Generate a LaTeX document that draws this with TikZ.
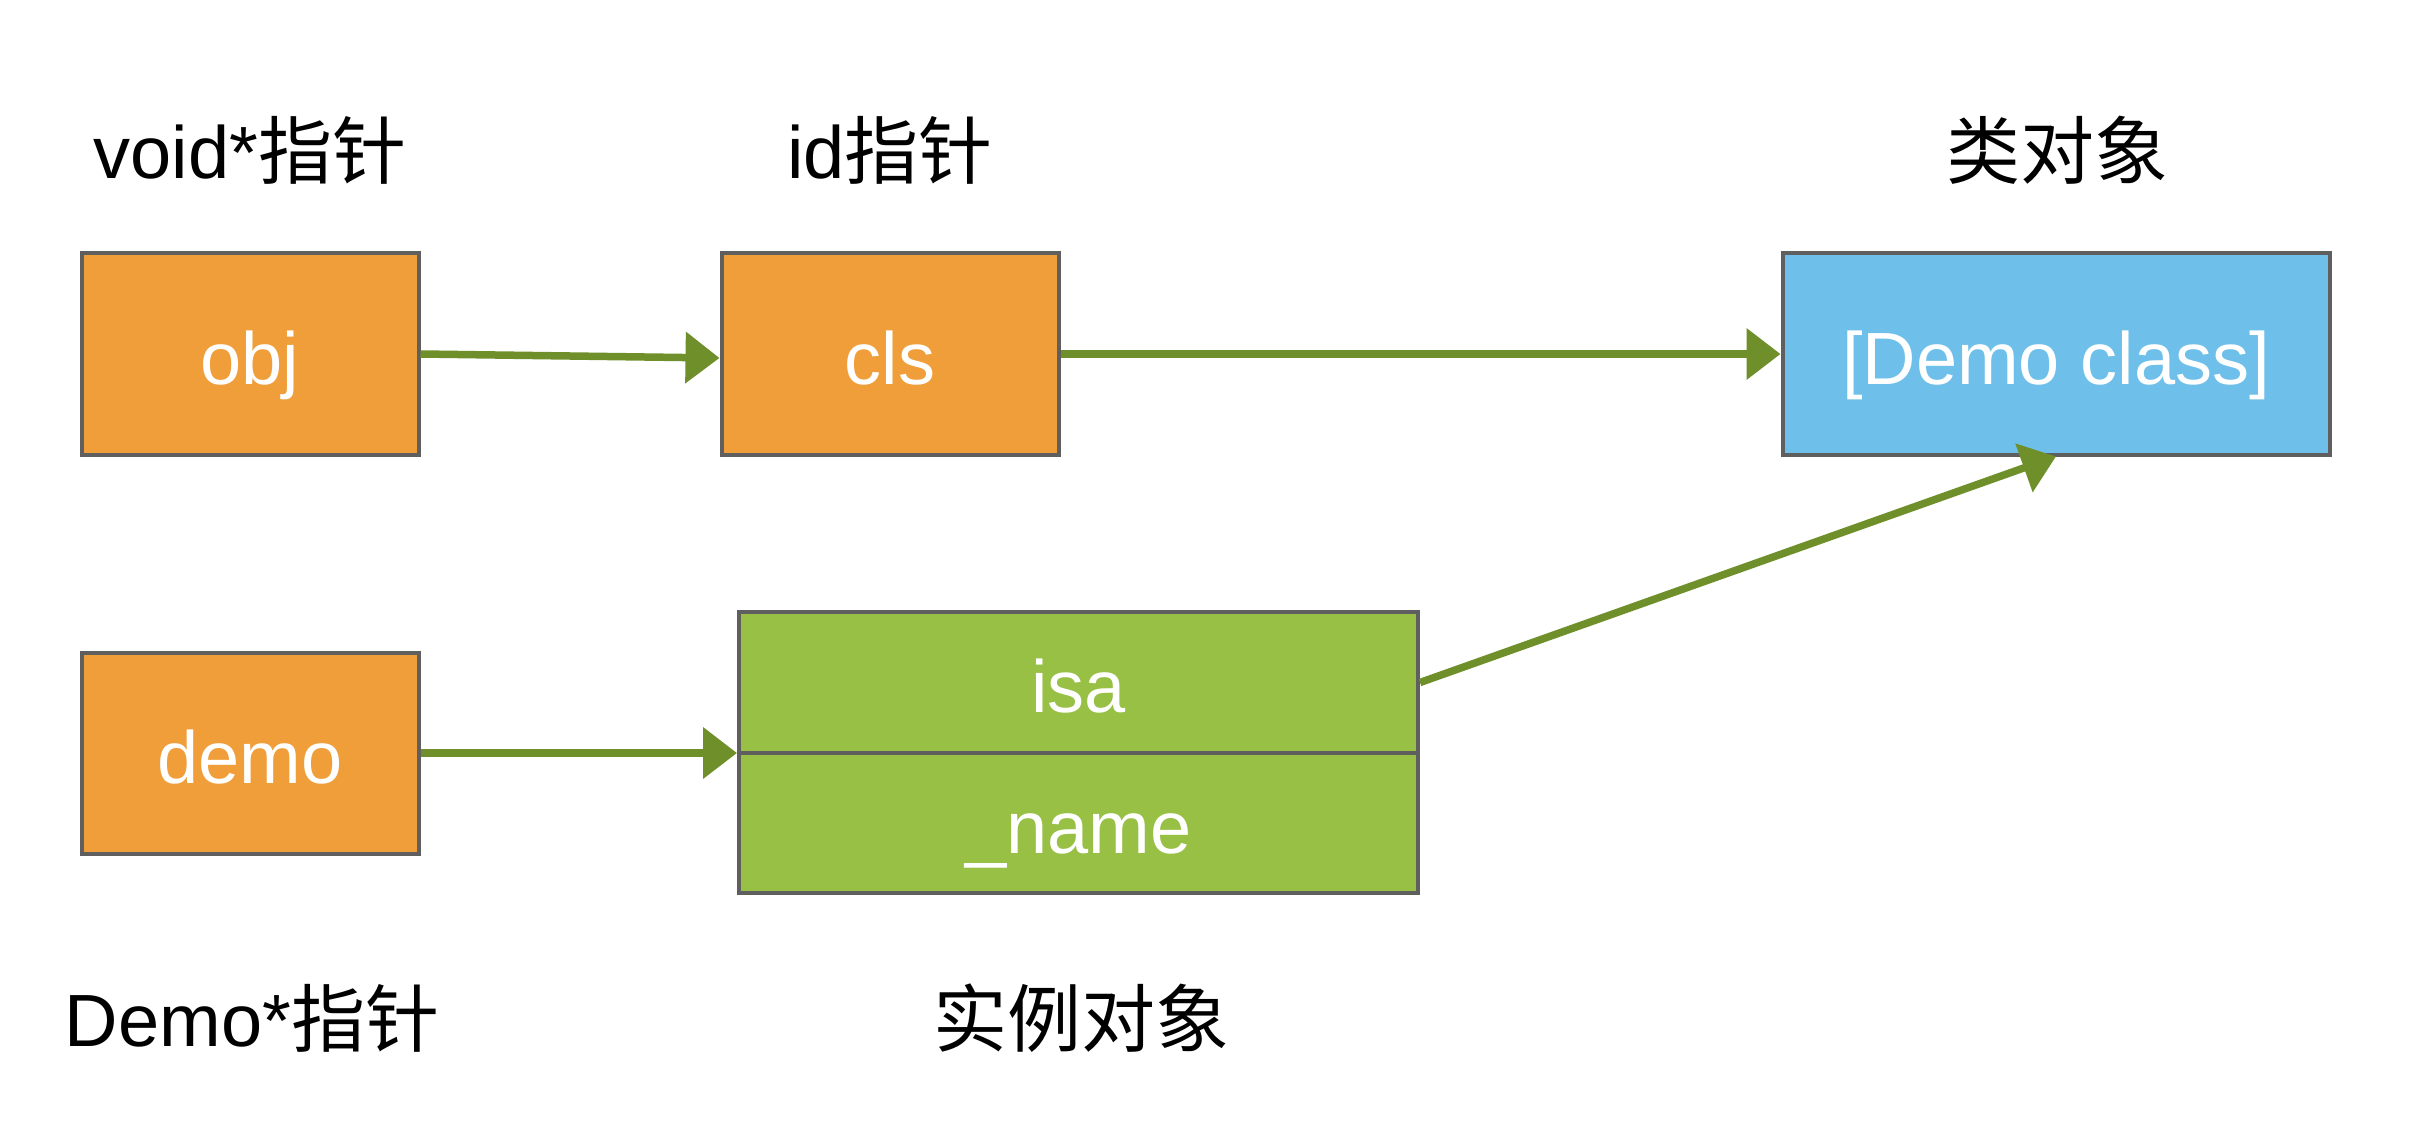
\documentclass[tikz,border=0pt]{standalone}
\usepackage{fontspec}
\setmainfont{Liberation Sans}
\newfontfamily\cjk{Noto Sans CJK SC}
\usetikzlibrary{arrows.meta}
\definecolor{orangebox}{RGB}{240,158,58}
\definecolor{bluebox}{RGB}{110,192,234}
\definecolor{greenbox}{RGB}{151,192,69}
\definecolor{bordergray}{RGB}{95,95,95}
\definecolor{arrowgreen}{RGB}{111,143,42}
\begin{document}
\begin{tikzpicture}[x=1pt,y=-1pt,
  bigfont/.style={font=\fontsize{74pt}{88pt}\selectfont},
  cell/.style={draw=bordergray, line width=4pt, text=white, bigfont, inner sep=0pt,
    text height=68pt, text depth=8pt},
  ptr/.style={cell, fill=orangebox, minimum width=337pt, minimum height=201pt},
  lbl/.style={text=black, bigfont, inner sep=0pt},
  conn/.style={draw=arrowgreen, line width=7.5pt, -{Triangle[length=34pt,width=50pt]}}
]
\useasboundingbox (0,0) rectangle (2418,1134);
% boxes
\node[ptr] (obj) at (250,354) {obj};
\node[ptr] (cls) at (890,354) {cls};
\node[cell, fill=bluebox, minimum width=547pt, minimum height=201pt] (klass) at (2056,354) {[Demo class]};
\node[ptr] (demo) at (250,753) {demo};
\node[cell, fill=greenbox, minimum width=679pt, minimum height=141pt] (isa) at (1078.5,682.5) {isa};
\node[cell, fill=greenbox, minimum width=679pt, minimum height=140pt] (name) at (1078.5,823) {\_name};
% labels
\node[lbl] (lvoid) at (250,150) {void*{\cjk 指针}};
\node[lbl] (lid) at (890,150) {id{\cjk 指针}};
\node[lbl] (lclass) at (2057,150) {\cjk 类对象};
\node[lbl] (ldemo) at (252,1018) {Demo*{\cjk 指针}};
\node[lbl] (linst) at (1081,1018) {\cjk 实例对象};
% connectors
\draw[conn] (obj.east) -- ([yshift=-4pt]cls.west);
\draw[conn] (cls.east) -- (klass.west);
\draw[conn] (demo.east) -- (demo.east -| isa.west);
\draw[conn] (isa.east) -- (klass.south);
\end{tikzpicture}
\end{document}
